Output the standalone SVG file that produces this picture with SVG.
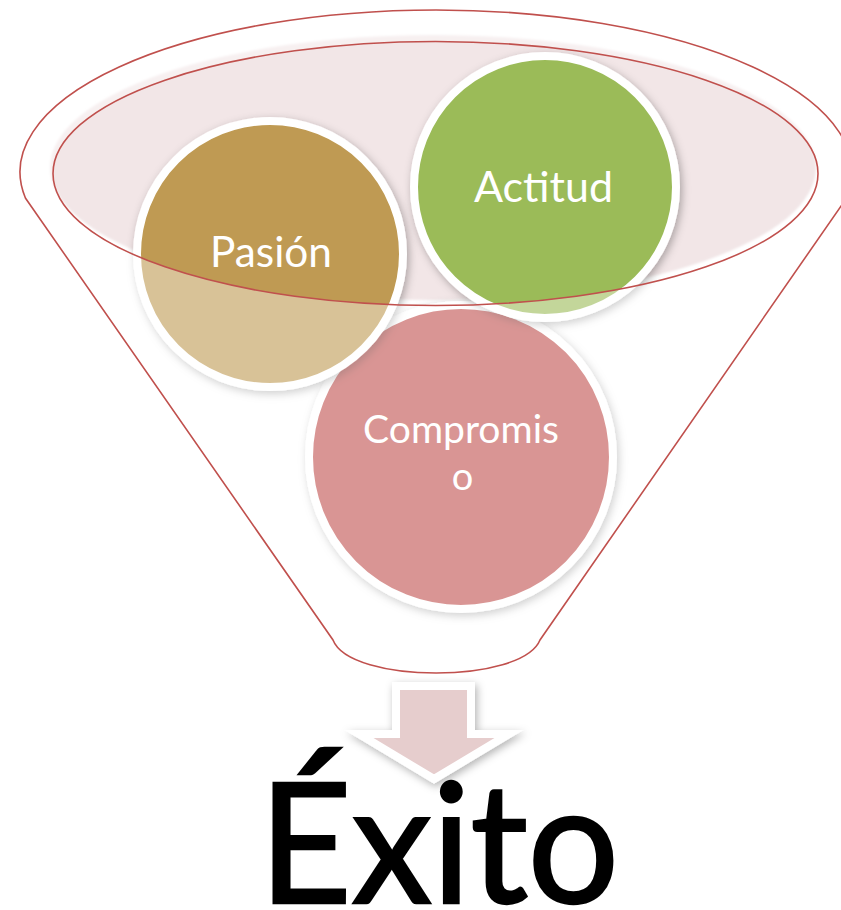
<svg xmlns="http://www.w3.org/2000/svg" width="841" height="910" viewBox="0 0 841 910">
  <defs>
    <filter id="sh" x="-20%" y="-20%" width="140%" height="140%">
      <feDropShadow dx="2" dy="3" stdDeviation="4" flood-color="#000" flood-opacity="0.3"/>
    </filter>
    <filter id="soft" x="-5%" y="-5%" width="110%" height="110%">
      <feGaussianBlur stdDeviation="1.2"/>
    </filter>
  </defs>
  <style>
    .circ { stroke: #FFFFFF; stroke-width: 8; filter: url(#sh); }
    .lbl { font-family: Lato, "Open Sans", "Liberation Sans", sans-serif; fill: #FFFFFF; text-anchor: middle; }
    .red { fill: none; stroke: #C0504D; stroke-width: 1.6; }
  </style>
  <rect width="841" height="910" fill="#FFFFFF"/>

  <g id="funnel-opening">
    <ellipse cx="433" cy="167.5" rx="383" ry="132.5" fill="#F2E6E7" filter="url(#soft)"/>
  </g>

  <g id="node-compromiso">
    <circle class="circ" cx="461" cy="457" r="152" fill="#C0504D"/>
    <text class="lbl" font-size="38" x="461" y="443" textLength="196" lengthAdjust="spacingAndGlyphs">Compromis</text>
    <text class="lbl" font-size="38" x="462.5" y="490">o</text>
  </g>

  <g id="node-pasion">
    <circle class="circ" cx="270" cy="254" r="133" fill="#BF9A52"/>
    <text class="lbl" font-size="42" x="271" y="267" textLength="122" lengthAdjust="spacingAndGlyphs">Pasión</text>
  </g>

  <g id="node-actitud">
    <circle class="circ" cx="545" cy="187" r="131" fill="#9BBB59"/>
    <text class="lbl" font-size="42" x="543.5" y="202" textLength="139" lengthAdjust="spacingAndGlyphs">Actitud</text>
  </g>

  <g id="funnel-body">
    <path fill="#FFFFFF" fill-opacity="0.4" fill-rule="evenodd"
      d="M25.4,198 A416,162 0 1 1 846.6,198 L540,640 C522,684 350,684 333,640 Z
         M53,173.5 A382.5,132 0 1 0 818,173.5 A382.5,132 0 1 0 53,173.5 Z"/>
    <path class="red" d="M25.4,198 A416,162 0 1 1 846.6,198 L540,640 C522,684 350,684 333,640 Z"/>
    <ellipse class="red" cx="435.5" cy="173.5" rx="382.5" ry="132"/>
  </g>

  <g id="connectors">
    <polygon points="396,686 471,686 471,734 509,734 434,779 359,734 396,734" fill="#E6CDCD" stroke="#FFFFFF" stroke-width="8" stroke-linejoin="miter" filter="url(#sh)"/>
  </g>

  <g id="node-exito">
    <text x="439" y="903" font-family="Lato, 'Open Sans', 'Liberation Sans', sans-serif" font-size="166" fill="#000000" stroke="#000000" stroke-width="2.5" text-anchor="middle" textLength="360" lengthAdjust="spacingAndGlyphs">Éxito</text>
  </g>
</svg>
